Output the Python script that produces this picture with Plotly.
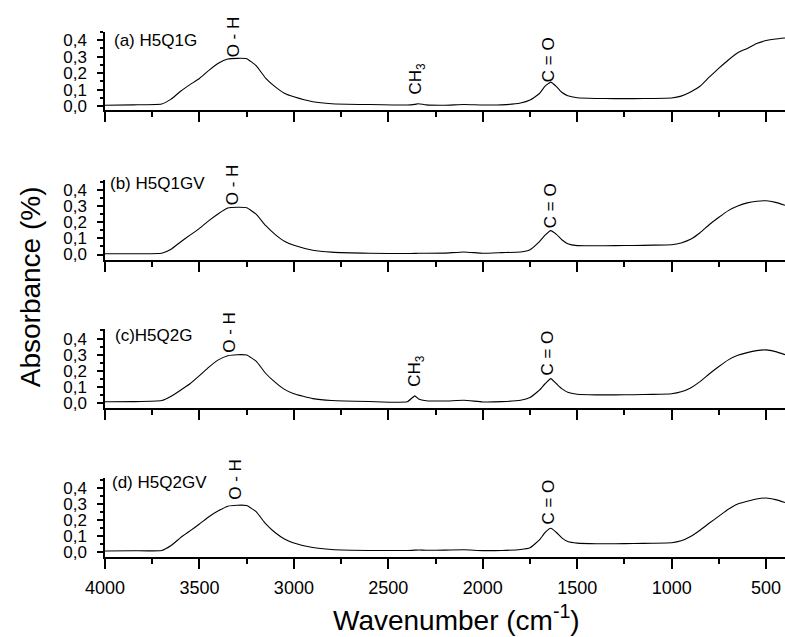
import plotly.graph_objects as go

# Wavenumber grid (cm^-1) shared by all four spectra
wavenumber = [4000, 3850, 3700, 3650, 3600, 3550, 3500, 3450, 3400, 3350, 3300, 3250,
              3200, 3150, 3100, 3050, 3000, 2900, 2800, 2600, 2400, 2360, 2340, 2300,
              2200, 2100, 2000, 1900, 1800, 1750, 1700, 1670, 1640, 1610, 1580, 1550,
              1500, 1400, 1300, 1200, 1100, 1000, 950, 900, 850, 800, 750, 700, 650,
              600, 550, 500, 450, 400]

# Absorbance values for each sample
abs_h5q1g = [0.005, 0.007, 0.012, 0.042, 0.090, 0.130, 0.167, 0.217, 0.260, 0.286, 0.290, 0.288,
             0.245, 0.170, 0.118, 0.078, 0.056, 0.026, 0.014, 0.009, 0.006, 0.010, 0.014, 0.007,
             0.005, 0.009, 0.006, 0.007, 0.018, 0.036, 0.076, 0.121, 0.145, 0.118, 0.082, 0.062,
             0.050, 0.046, 0.045, 0.045, 0.046, 0.049, 0.060, 0.085, 0.120, 0.177, 0.230, 0.280,
             0.324, 0.350, 0.380, 0.398, 0.408, 0.414]

abs_h5q1gv = [0.005, 0.005, 0.008, 0.033, 0.078, 0.120, 0.162, 0.210, 0.253, 0.288, 0.293, 0.290,
              0.250, 0.180, 0.125, 0.082, 0.057, 0.027, 0.015, 0.008, 0.006, 0.007, 0.008, 0.008,
              0.009, 0.016, 0.008, 0.012, 0.016, 0.030, 0.080, 0.120, 0.148, 0.125, 0.090, 0.067,
              0.055, 0.054, 0.055, 0.056, 0.058, 0.061, 0.072, 0.094, 0.135, 0.186, 0.231, 0.272,
              0.300, 0.320, 0.330, 0.333, 0.323, 0.305]

abs_h5q2g = [0.008, 0.009, 0.016, 0.043, 0.080, 0.120, 0.170, 0.223, 0.268, 0.294, 0.300, 0.298,
             0.260, 0.185, 0.130, 0.085, 0.058, 0.028, 0.016, 0.010, 0.008, 0.045, 0.026, 0.015,
             0.013, 0.018, 0.007, 0.009, 0.018, 0.035, 0.080, 0.120, 0.152, 0.120, 0.088, 0.067,
             0.055, 0.051, 0.051, 0.052, 0.054, 0.058, 0.070, 0.094, 0.133, 0.182, 0.227, 0.268,
             0.296, 0.313, 0.325, 0.330, 0.319, 0.300]

abs_h5q2gv = [0.005, 0.006, 0.008, 0.039, 0.088, 0.130, 0.173, 0.218, 0.255, 0.284, 0.290, 0.288,
              0.250, 0.175, 0.120, 0.080, 0.055, 0.026, 0.014, 0.008, 0.008, 0.010, 0.011, 0.009,
              0.010, 0.012, 0.007, 0.008, 0.014, 0.025, 0.074, 0.120, 0.146, 0.120, 0.085, 0.064,
              0.054, 0.050, 0.050, 0.051, 0.053, 0.056, 0.068, 0.095, 0.134, 0.179, 0.222, 0.265,
              0.298, 0.315, 0.329, 0.335, 0.325, 0.307]

series = [abs_h5q1g, abs_h5q1gv, abs_h5q2g, abs_h5q2gv]
panel_labels = ["(a) H5Q1G", "(b) H5Q1GV", "(c)H5Q2G", "(d) H5Q2GV"]

# Band labels: (text, wavenumber, absorbance) per panel
band_labels = [
    [("O - H", 3322, 0.418), ("CH<sub>3</sub>", 2348, 0.167), ("C = O", 1655, 0.284)],
    [("O - H", 3327, 0.430), ("C = O", 1644, 0.300)],
    [("O - H", 3338, 0.436), ("CH<sub>3</sub>", 2354, 0.200), ("C = O", 1655, 0.313)],
    [("O - H", 3311, 0.450), ("C = O", 1650, 0.312)],
]
label_pos = [(3963, 0.400), (3984, 0.440), (3958, 0.420), (3974, 0.430)]

y_ticks = [0.0, 0.1, 0.2, 0.3, 0.4]
x_ticks = [4000, 3500, 3000, 2500, 2000, 1500, 1000, 500]

W, H = 785, 637
FONT = "Liberation Sans, Arial, sans-serif"

# Panel extents in pixels: (top, bottom axis line) and y-range
panel_px = [(32, 111), (182, 262), (332, 412), (483, 562)]
y_ranges = [[-0.024, 0.452], [-0.031, 0.460], [-0.031, 0.460], [-0.031, 0.457]]

fig = go.Figure()
layout = dict(
    width=W, height=H,
    margin=dict(l=105, r=0, t=0, b=0),
    paper_bgcolor="white", plot_bgcolor="white",
    separators=",.",
    showlegend=False,
    font=dict(family=FONT, color="black"),
)

annotations = []
for i, ys in enumerate(series):
    n = i + 1
    xa = "x" if n == 1 else f"x{n}"
    ya = "y" if n == 1 else f"y{n}"
    fig.add_trace(go.Scatter(
        x=wavenumber, y=ys, mode="lines",
        line=dict(color="black", width=1.1, shape="spline", smoothing=0.4),
        xaxis=xa, yaxis=ya, hoverinfo="skip",
    ))
    top, bot = panel_px[i]
    last = (i == len(series) - 1)
    layout["xaxis" if n == 1 else f"xaxis{n}"] = dict(
        domain=[0, 1], anchor=ya, range=[4000, 400],
        showline=True, linecolor="black", linewidth=2,
        showgrid=False, zeroline=False,
        ticks="outside", ticklen=10, tickwidth=1.5, tickcolor="black",
        tickvals=x_ticks, tickformat="d",
        showticklabels=last, ticklabelstandoff=4,
        tickfont=dict(family=FONT, size=18, color="black"),
        minor=dict(dtick=250, tick0=0, ticks="outside", ticklen=5,
                   tickwidth=1.5, tickcolor="black", showgrid=False),
    )
    layout["yaxis" if n == 1 else f"yaxis{n}"] = dict(
        domain=[1 - bot / H, 1 - top / H], anchor=xa, range=y_ranges[i],
        showline=True, linecolor="black", linewidth=1.5,
        showgrid=False, zeroline=False,
        ticks="outside", ticklen=6, tickwidth=1.5, tickcolor="black",
        tickvals=y_ticks, tickformat=".1f", ticklabelstandoff=7,
        tickfont=dict(family=FONT, size=17, color="black"),
        minor=dict(dtick=0.05, tick0=0, ticks="outside", ticklen=3,
                   tickwidth=1.5, tickcolor="black", showgrid=False),
    )
    lx, ly = label_pos[i]
    annotations.append(dict(
        x=lx, y=ly, xref=xa, yref=ya, text=panel_labels[i], showarrow=False,
        xanchor="left", yanchor="middle", font=dict(family=FONT, size=17, color="black"),
    ))
    for text, bx, by in band_labels[i]:
        annotations.append(dict(
            x=bx, y=by, xref=xa, yref=ya, text=text, showarrow=False, textangle=-90,
            xanchor="center", yanchor="middle", font=dict(family=FONT, size=17, color="black"),
        ))

# Axis titles
annotations.append(dict(
    x=(456 - 105) / 680, y=1 - 624 / H, xref="paper", yref="paper",
    text="Wavenumber (cm<sup>-1</sup>)", showarrow=False,
    xanchor="center", yanchor="middle", font=dict(family=FONT, size=28, color="black"),
))
annotations.append(dict(
    x=(30 - 105) / 680, y=1 - 290 / H, xref="paper", yref="paper",
    text="Absorbance (%)", showarrow=False, textangle=-90,
    xanchor="center", yanchor="middle", font=dict(family=FONT, size=28, color="black"),
))
layout["annotations"] = annotations

fig.update_layout(**layout)
fig.write_html("out.html")
